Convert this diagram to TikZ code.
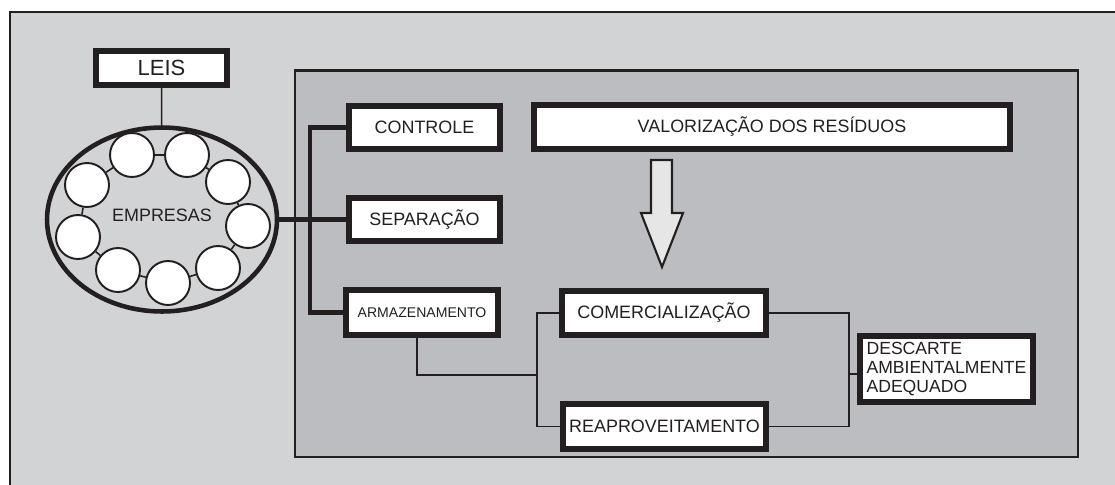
\documentclass[tikz,border=0pt]{standalone}
\usepackage{fontspec}
\setmainfont{Liberation Sans}
\usetikzlibrary{shapes.geometric}
\definecolor{ink}{HTML}{231F20}
\definecolor{bgout}{HTML}{D2D3D5}
\definecolor{bgin}{HTML}{BCBDC0}
\definecolor{arrowfill}{HTML}{E6E6E7}

\begin{document}
\begin{tikzpicture}[x=0.02cm,y=-0.02cm,
		box/.style={draw=ink, fill=white, line width=3pt, inner sep=0pt, text=ink, font=\fontsize{10.2}{11.5}\selectfont},
		ring/.style={circle, draw=ink, fill=white, line width=1.1pt, minimum size=0.88cm, inner sep=0pt},
		thickline/.style={draw=ink, line width=2.4pt},
		thinline/.style={draw=ink, line width=0.9pt}]
			\useasboundingbox (0,0) rectangle (1115,484);
			\clip (0,0) rectangle (1115,484);
			% Frames
			\fill[white] (0,0) rectangle (1115,484);
			\filldraw[fill=bgout, draw=ink, line width=1.7pt] (10,12) rectangle (1140,510);
			\filldraw[fill=bgin, draw=ink, line width=1.5pt] (295,70.5) rectangle (1078,457);
			% Companies
			\node[box, font=\fontsize{12.5}{14}\selectfont, minimum width=2.62cm, minimum height=0.68cm] (leis) at (161.5,68) {LEIS};
			\node[ellipse, draw=ink, line width=2.6pt, minimum width=4.6cm, minimum height=3.68cm, inner sep=0pt] (empresas) at (162,219.5) {};
			\node[text=ink, font=\fontsize{10.2}{12}\selectfont] (emptext) at (162,215) {EMPRESAS};
			\foreach \cx/\cy [count=\i] in {132/155, 187/155, 228/182, 248/226, 218/268, 168/283, 118/270, 78/237, 87/185}
				\node[ring] (c\i) at (\cx,\cy) {};
			\foreach \i [remember=\i as \j (initially 9)] in {1,...,9}
				\draw[thinline] (c\j) -- (c\i);
			\draw[thinline] (leis) -- (empresas);
			% Boxes
			\node[box, minimum width=3.02cm, minimum height=0.86cm] (controle) at (424.5,127.5) {CONTROLE};
			\node[box, minimum width=3.02cm, minimum height=0.86cm] (separacao) at (424.5,219.5) {SEPARAÇÃO};
			\node[box, font=\fontsize{8}{10}\selectfont, minimum width=3.04cm, minimum height=0.90cm] (armaz) at (422,312.5) {ARMAZENAMENTO};
			\node[box, minimum width=9.52cm, minimum height=0.88cm] (valoriz) at (772,127) {VALORIZAÇÃO DOS RESÍDUOS};
			\node[box, minimum width=4.08cm, minimum height=0.88cm] (comerc) at (664,313) {COMERCIALIZAÇÃO};
			\node[box, minimum width=4.06cm, minimum height=0.90cm] (reapr) at (664.5,426.5) {REAPROVEITAMENTO};
			\node[box, font=\fontsize{10}{11}\selectfont, align=left, minimum width=3.46cm, minimum height=1.32cm] (descarte) at (946.5,369) {DESCARTE\\AMBIENTALMENTE\\ADEQUADO};
			% Connectors
			\coordinate (trunk) at (310,219.5);
			\draw[thickline] (empresas) -- (separacao);
			\draw[thickline] (controle.west) -- (controle.west -| trunk) -- (armaz.west -| trunk) -- (armaz.west);
			\coordinate (joinA) at (537,375);
			\draw[thinline] ([xshift=-0.1cm]armaz.south) |- (joinA);
			\draw[thinline] (comerc.west) -| (joinA) |- (reapr.west);
			\coordinate (joinB) at (849,374);
			\draw[thinline] (comerc.east) -| (joinB) |- (reapr.east);
			\draw[thinline] (joinB) -- (joinB -| descarte.west);
			% Arrow
			\filldraw[fill=arrowfill, draw=ink, line width=1.2pt, line join=miter]
				(651,160) -- (672,160) -- (672,213) -- (683,213) -- (662,267) -- (641,213) -- (651,213) -- cycle;
		\end{tikzpicture}
\end{document}
